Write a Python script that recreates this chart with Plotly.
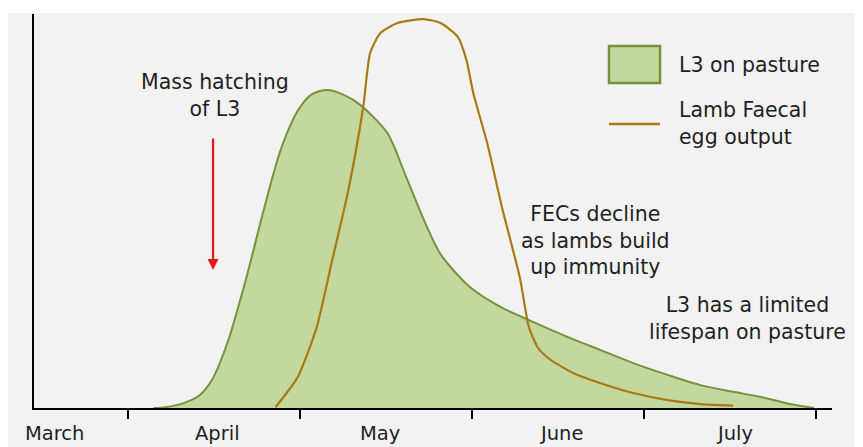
import plotly.graph_objects as go

# x in month units (1 = first tick, 2 = second tick, ...), y in relative level (0-100)
l3_x = [1.15, 1.22, 1.33, 1.42, 1.49, 1.58, 1.69, 1.79, 1.89, 1.99, 2.07, 2.16, 2.26,
        2.35, 2.51, 2.62, 2.74, 2.82, 2.99, 3.17, 3.36, 3.56, 3.75, 3.94, 4.14,
        4.33, 4.52, 4.68, 4.85, 4.99]
l3_y = [0, 0.2, 1.3, 3.3, 7.1, 16.5, 33, 50, 65.5, 75.5, 79.6, 80.7, 79.4,
        77.0, 69.8, 58.6, 46, 39, 30.7, 25.6, 21.8, 18.0, 14.7, 11.4, 8.4,
        5.8, 4.1, 2.8, 1.0, 0]

fec_x = [1.86, 1.99, 2.10, 2.19, 2.28, 2.37, 2.41, 2.47, 2.57, 2.72, 2.82, 2.92,
         2.97, 3.01, 3.09, 3.18, 3.28, 3.33, 3.36, 3.39, 3.46, 3.59, 3.75, 3.94,
         4.14, 4.33, 4.52]
fec_y = [0.2, 7.9, 20.6, 37.6, 54.6, 76.4, 90.1, 95.2, 97.7, 98.7, 97.7, 94.2,
         88.3, 79.9, 67.3, 50.3, 33.2, 21.0, 17.5, 15.0, 12.2, 8.9, 6.3, 3.8,
         2.0, 1.0, 0.6]

month_labels = ["March", "April", "May", "June", "July"]
month_label_x = [0.578, 1.52, 2.47, 3.52, 4.53]
tick_vals = [1, 2, 3, 4, 5]

GREEN_FILL = "#c3d89e"
GREEN_LINE = "#76923c"
BROWN = "#a87a14"
TEXT = "#1f1f1f"
FONT = "DejaVu Sans"
FS = 20.5

# the page body adds an 8px offset; the figure is sized so the plot area
# lands at page pixels x 34..832, y 14..408
OFF = 8

fig = go.Figure()
fig.add_trace(go.Scatter(
    x=l3_x, y=l3_y, mode="lines", fill="tozeroy",
    fillcolor=GREEN_FILL, line=dict(color=GREEN_LINE, width=2, shape="spline", smoothing=0.8),
    showlegend=False, hoverinfo="skip"))
fig.add_trace(go.Scatter(
    x=fec_x, y=fec_y, mode="lines",
    line=dict(color=BROWN, width=2.2, shape="spline", smoothing=0.6),
    showlegend=False, hoverinfo="skip"))


def px(xp):
    return (xp - 34) / 798.0


def py(yp):
    return (408 - yp) / 394.0


shapes = [
    # grey slide background
    dict(type="rect", xref="paper", yref="paper", x0=px(7), x1=px(880), y0=py(470), y1=py(13),
         fillcolor="#f2f2f2", line=dict(width=0), layer="below"),
    # legend box
    dict(type="rect", xref="paper", yref="paper", x0=px(609), x1=px(660), y0=py(83), y1=py(46),
         fillcolor=GREEN_FILL, line=dict(color=GREEN_LINE, width=2.5)),
    # legend line
    dict(type="line", xref="paper", yref="paper", x0=px(609), x1=px(660), y0=py(124), y1=py(124),
         line=dict(color=BROWN, width=2.5)),
]

annotations = []
for lab, xv in zip(month_labels, month_label_x):
    annotations.append(dict(x=xv, y=py(433), xref="x", yref="paper", text=lab, showarrow=False,
                            font=dict(family=FONT, size=19.5, color=TEXT), xanchor="center", yanchor="middle"))

annotations += [
    dict(x=px(677), y=py(65), xref="paper", yref="paper", text="L3 on pasture", showarrow=False,
         xanchor="left", yanchor="middle", font=dict(family=FONT, size=FS, color=TEXT)),
    dict(x=px(677), y=py(124), xref="paper", yref="paper", text="Lamb Faecal<br>egg output", showarrow=False,
         xanchor="left", yanchor="middle", align="left", font=dict(family=FONT, size=FS, color=TEXT)),
    dict(x=1.508, y=79.2, xref="x", yref="y", text="Mass hatching<br>of L3", showarrow=False,
         xanchor="center", yanchor="middle", align="center", font=dict(family=FONT, size=FS, color=TEXT)),
    dict(x=1.497, y=35.0, ax=1.497, ay=68.8, xref="x", yref="y", axref="x", ayref="y", text="",
         showarrow=True, arrowhead=2, arrowsize=1, arrowwidth=2.2, arrowcolor="#e31a1c"),
    dict(x=3.718, y=42.4, xref="x", yref="y", text="FECs decline<br>as lambs build<br>up immunity",
         showarrow=False, xanchor="center", yanchor="middle", align="center",
         font=dict(family=FONT, size=FS, color=TEXT)),
    dict(x=4.602, y=22.8, xref="x", yref="y", text="L3 has a limited<br>lifespan on pasture",
         showarrow=False, xanchor="center", yanchor="middle", align="center",
         font=dict(family=FONT, size=FS, color=TEXT)),
]

fig.update_layout(
    width=863 - OFF, height=447 - OFF,
    margin=dict(l=34 - OFF, r=31, t=14 - OFF, b=39),
    paper_bgcolor="white", plot_bgcolor="rgba(0,0,0,0)",
    shapes=shapes, annotations=annotations,
    xaxis=dict(range=[0.456, 5.095], showgrid=False, zeroline=False, showline=True,
               linecolor="black", linewidth=2, ticks="outside", tickvals=tick_vals,
               ticktext=["", "", "", "", ""], ticklen=9, tickwidth=1.5, tickcolor="black",
               fixedrange=True),
    yaxis=dict(range=[0, 100], showgrid=False, zeroline=False, showline=True,
               linecolor="black", linewidth=2, showticklabels=False, ticks="", fixedrange=True),
)

fig.write_html("out.html")
